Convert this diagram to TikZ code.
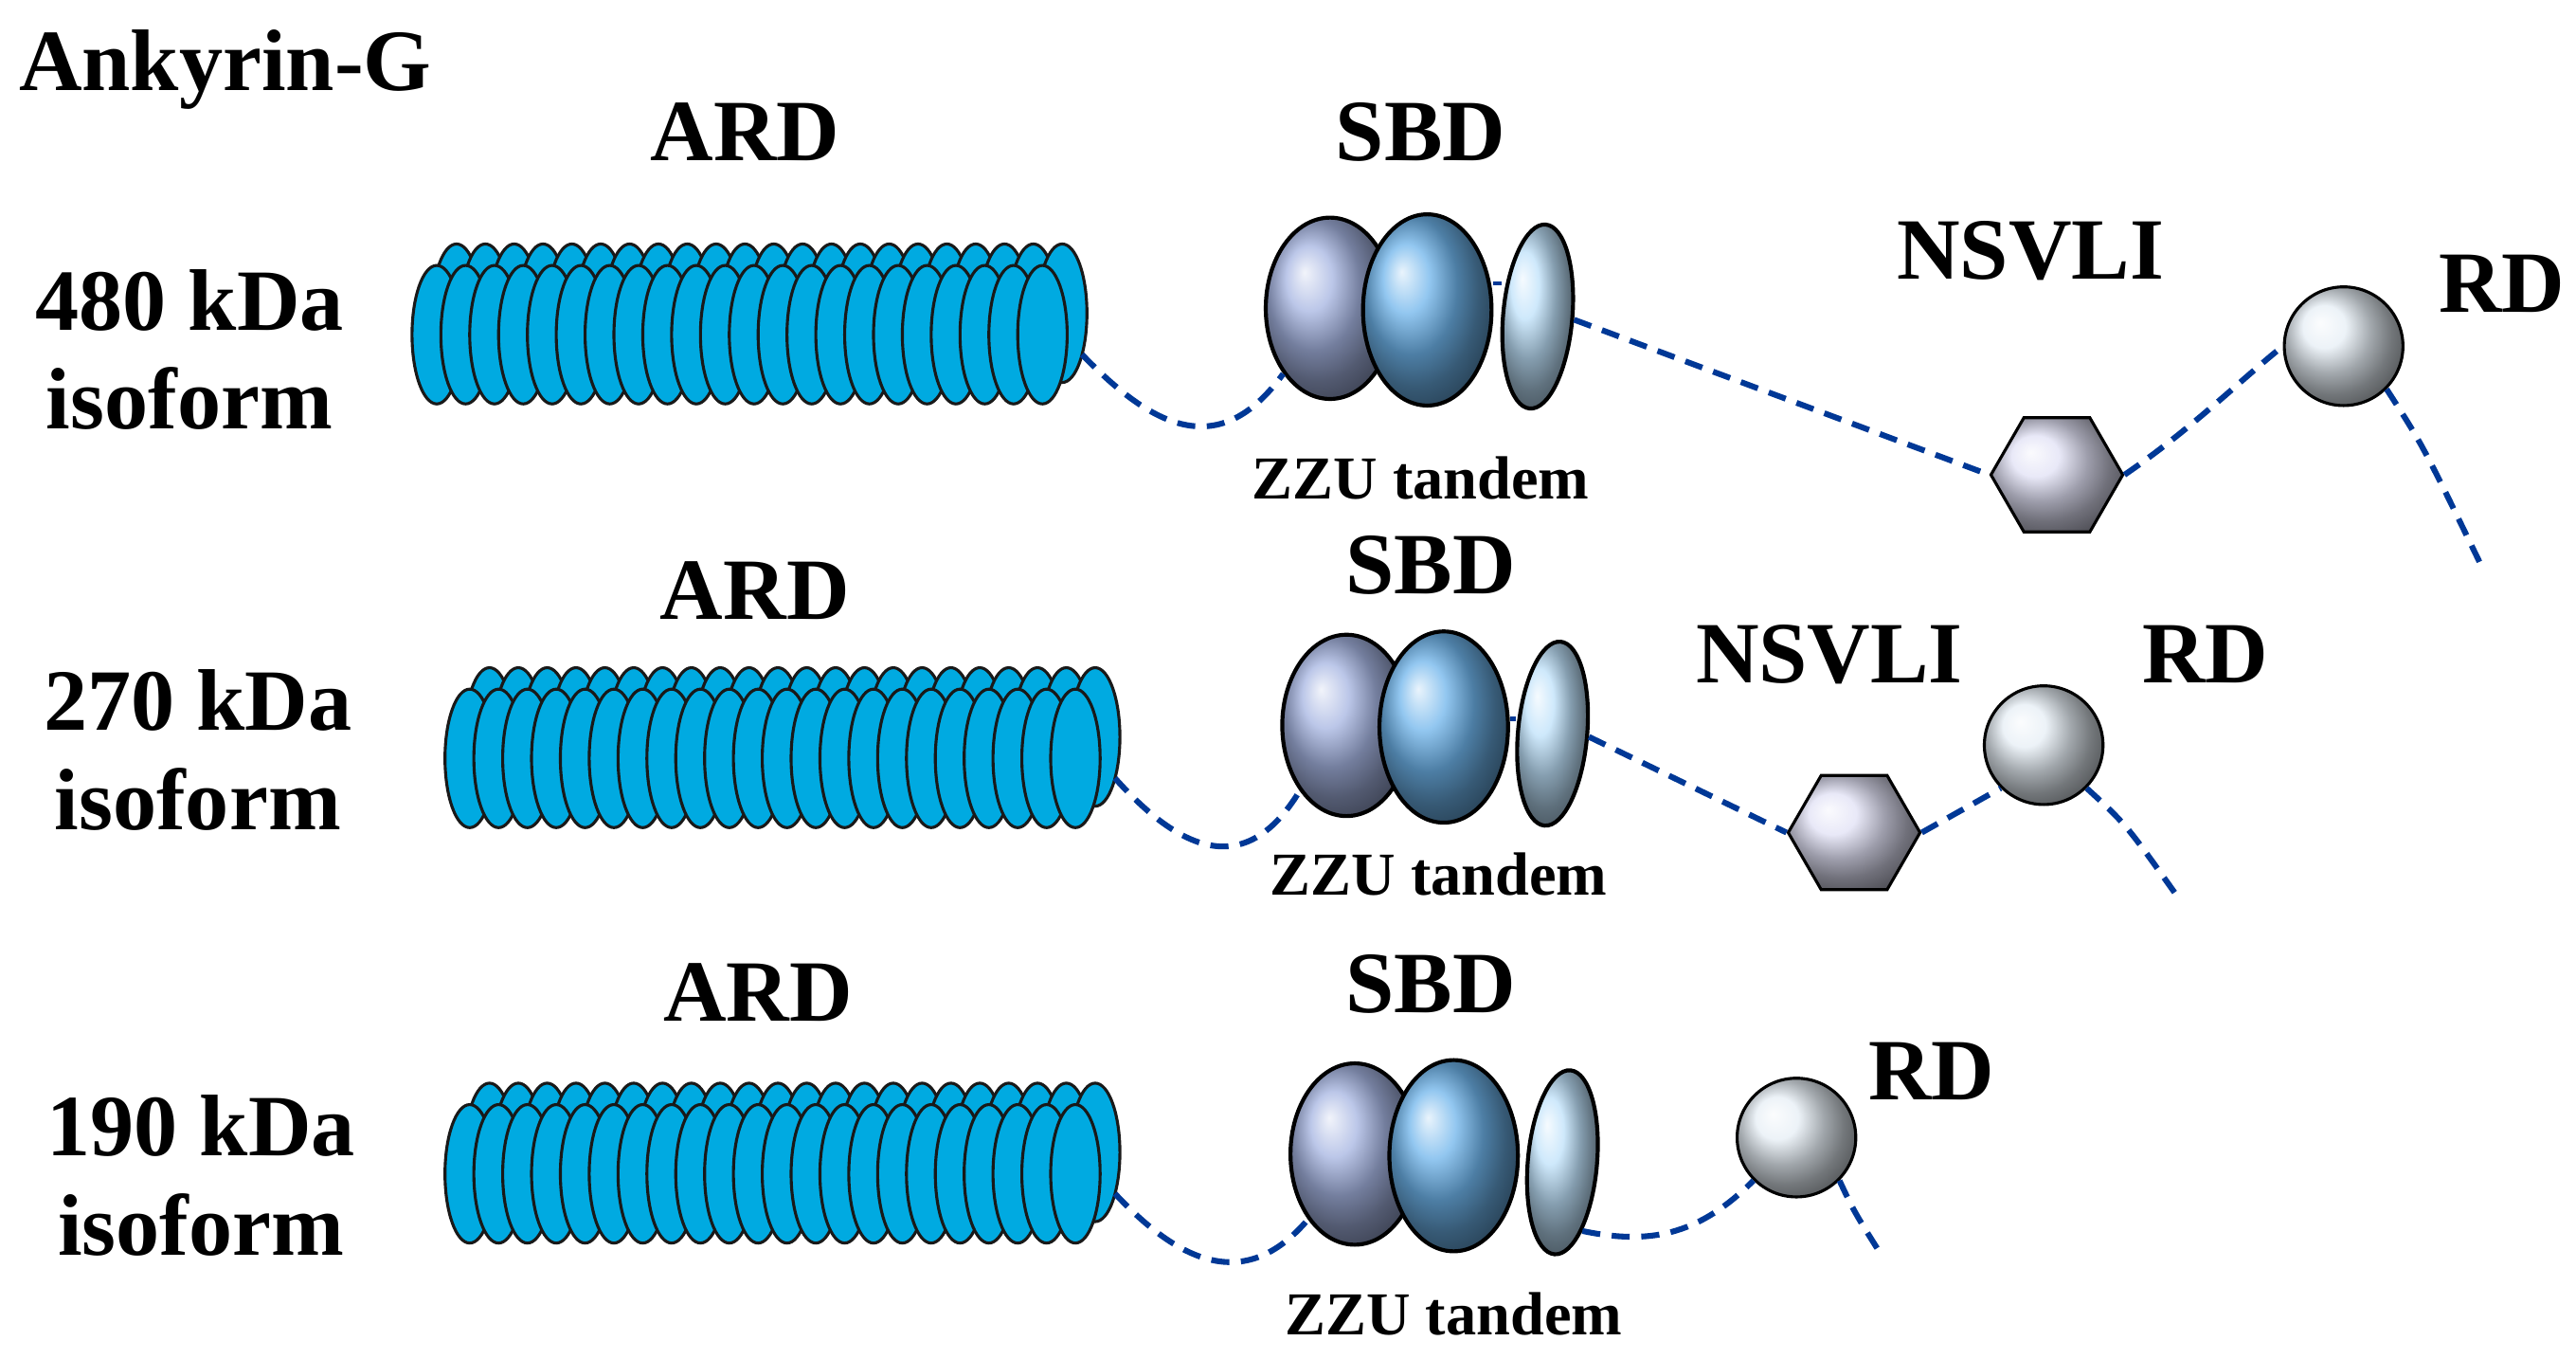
\documentclass[tikz,border=0pt]{standalone}
\usepackage{fontspec}
\setmainfont{Liberation Serif}
\usetikzlibrary{shapes.geometric}
\definecolor{discblue}{RGB}{0,170,225}
\definecolor{linkblue}{RGB}{0,56,150}
\tikzset{
  disc/.style={draw=black!90,line width=1.8pt,fill=discblue},
  sbdA/.style={ellipse,draw=black,line width=2.4pt,ball color={rgb,255:red,165;green,180;blue,225},minimum width=78pt,minimum height=110pt,inner sep=0pt},
  sbdB/.style={ellipse,draw=black,line width=2.4pt,ball color={rgb,255:red,110;green,180;blue,235},minimum width=78pt,minimum height=116pt,inner sep=0pt},
  sbdC/.style={ellipse,draw=black,line width=2.4pt,ball color={rgb,255:red,190;green,225;blue,250},minimum width=42pt,minimum height=112pt,inner sep=0pt,rotate=-5},
  hexnode/.style={regular polygon,regular polygon sides=6,draw=black,line width=1.8pt,ball color={rgb,255:red,225;green,225;blue,245},minimum size=80pt,inner sep=0pt},
  rdnode/.style={circle,draw=black,line width=1.8pt,ball color={rgb,255:red,230;green,238;blue,245},minimum size=72pt,inner sep=0pt},
  link/.style={draw=linkblue,line width=3.5pt,dash pattern=on 11pt off 7pt},
  big/.style={font=\fontsize{53}{60}\selectfont\bfseries},
  mid/.style={font=\fontsize{53}{60}\selectfont\bfseries},
  small/.style={font=\fontsize{37}{42}\selectfont\bfseries},
}
\newcommand{\ardrow}[3]{% #1 x start, #2 y front center, #3 name
  \foreach \i in {0,...,21}{\draw[disc] ({#1+12+\i*17.5},{#2-13}) ellipse [x radius=15pt,y radius=42pt];}
  \foreach \i in {0,...,21}{\draw[disc] ({#1+\i*17.5},{#2}) ellipse [x radius=15pt,y radius=42pt];}
  \coordinate (#3) at ({#1+12+21*17.5+12},{#2+12});
}
\begin{document}
\begin{tikzpicture}[x=1pt,y=-1pt]
\useasboundingbox (0,0) rectangle (1563,824);
\node[mid,anchor=west] (title) at (8,42) {Ankyrin-G};
% Row 1
\node[big,align=center] (r1) at (115,212) {480 kDa\\isoform};
\node[big] (ard1) at (452,80) {ARD};
\ardrow{265}{203}{ae1}
\node[sbdA] (a1) at (807,187) {};
\node[sbdB] (b1) at (866,188) {};
\node[sbdC] (c1) at (933,192) {};
\draw[line width=2.5pt,linkblue] (b1.east|-0,172) -- (c1.west|-0,172);
\node[big] (sbd1) at (862,80) {SBD};
\node[small] (z1) at (862,290) {ZZU tandem};
\node[hexnode] (h1) at (1248,288) {};
\node[rdnode] (d1) at (1422,210) {};
\node[big] (n1) at (1232,152) {NSVLI};
\node[big] (rd1) at (1518,172) {RD};
\coordinate (t1) at (1505,342);
\draw[link] (ae1) .. controls (700,260) and (740,280) .. (a1.south west);
\draw[link] (c1.east) -- (h1.west);
\draw[link] (h1.east) .. controls (1330,260) and (1360,230) .. (d1.west);
\draw[link] (d1.south east) .. controls (1470,270) .. (t1);
% Row 2
\node[big,align=center] (r2) at (120,455) {270 kDa\\isoform};
\node[big] (ard2) at (458,358) {ARD};
\ardrow{285}{460}{ae2}
\node[sbdA] (a2) at (817,440) {};
\node[sbdB] (b2) at (876,441) {};
\node[sbdC] (c2) at (942,445) {};
\draw[line width=2.5pt,linkblue] (b2.east|-0,436) -- (c2.west|-0,436);
\node[big] (sbd2) at (868,343) {SBD};
\node[small] (z2) at (873,530) {ZZU tandem};
\node[hexnode] (h2) at (1125,505) {};
\node[rdnode] (d2) at (1240,452) {};
\node[big] (n2) at (1110,397) {NSVLI};
\node[big] (rd2) at (1338,397) {RD};
\coordinate (t2) at (1322,545);
\draw[link] (ae2) .. controls (715,515) and (755,535) .. (a2.south west);
\draw[link] (c2.east) -- (h2.west);
\draw[link] (h2.east) -- (d2.south west);
\draw[link] (d2.south east) .. controls (1290,500) .. (t2);
% Row 3
\node[big,align=center] (r3) at (122,713) {190 kDa\\isoform};
\node[big] (ard3) at (460,602) {ARD};
\ardrow{285}{712}{ae3}
\node[sbdA] (a3) at (822,700) {};
\node[sbdB] (b3) at (882,701) {};
\node[sbdC] (c3) at (948,705) {};
\node[big] (sbd3) at (868,597) {SBD};
\node[small] (z3) at (882,797) {ZZU tandem};
\node[rdnode] (d3) at (1090,690) {};
\node[big] (rd3) at (1172,650) {RD};
\coordinate (t3) at (1142,762);
\draw[link] (ae3) .. controls (715,765) and (755,785) .. (a3.south west);
\draw[link] (c3.south east) .. controls (1000,755) and (1030,750) .. (d3.south west);
\draw[link] (d3.south east) .. controls (1125,735) .. (t3);
\end{tikzpicture}
\end{document}
